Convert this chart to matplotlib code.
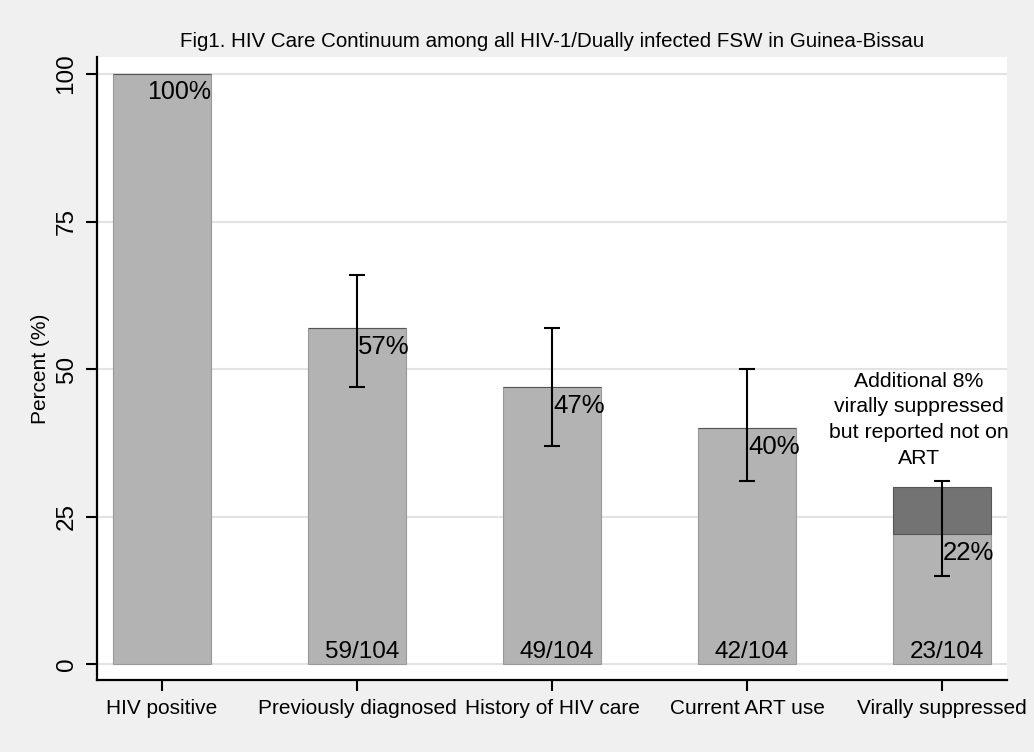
import matplotlib
matplotlib.use("Agg")
import matplotlib.pyplot as plt
import numpy as np

categories = ["HIV positive", "Previously diagnosed", "History of HIV care",
              "Current ART use", "Virally suppressed"]
percent = [100, 57, 47, 40, 22]
ci_low = [np.nan, 47, 37, 31, 15]
ci_high = [np.nan, 66, 57, 50, 31]
counts = ["", "59/104", "49/104", "42/104", "23/104"]
extra_suppressed = [0, 0, 0, 0, 8]
pct_labels = ["100%", "57%", "47%", "40%", "22%"]
yticks = [0, 25, 50, 75, 100]

plt.rcParams['font.family'] = ['Liberation Sans', 'DejaVu Sans']

fig = plt.figure(figsize=(10.34, 7.52), dpi=100, facecolor='#f0f0f0')
ax = fig.add_axes([97/1034, 1-680/752, 910/1034, 623/752])
ax.set_facecolor('white')

x = np.arange(len(categories))
ax.bar(x, percent, width=0.5, color='#b3b3b3', edgecolor='#999999', linewidth=0.8, zorder=2)
ax.bar(x, extra_suppressed, bottom=percent, width=0.5, color='#737373',
       edgecolor='#555555', linewidth=0.8, zorder=2)

lo = np.array(percent, float) - np.array(ci_low, float)
hi = np.array(ci_high, float) - np.array(percent, float)
mask = ~np.isnan(lo)
ax.errorbar(x[mask], np.array(percent)[mask], yerr=[lo[mask], hi[mask]], fmt='none',
            ecolor='black', elinewidth=1.5, capsize=6, capthick=1.5, zorder=4)

for i, (xi, p, lab) in enumerate(zip(x, percent, pct_labels)):
    if i == 0:
        ax.text(xi + 0.25, p - 1.0, lab, ha='right', va='top', fontsize=18, zorder=5)
    else:
        ax.text(xi + 0.005, p - 1.2, lab, ha='left', va='top', fontsize=18.5, zorder=5)
    if counts[i]:
        ax.text(xi + 0.025, 1.0, counts[i], ha='center', va='baseline', fontsize=17.5, zorder=5)

ax.text(3.88, 41.4, "Additional 8%\nvirally suppressed\nbut reported not on\nART",
        ha='center', va='center', fontsize=15.3, linespacing=1.45, zorder=5)

ax.set_xlim(-1/3, 4 + 1/3)
ax.set_ylim(-2.7, 102.9)
ax.set_yticks(yticks)
ax.set_yticklabels([str(t) for t in yticks], rotation=90, va='center', fontsize=17.5)
ax.set_xticks(x)
ax.set_xticklabels(categories, fontsize=15)
ax.yaxis.grid(True, color='#e3e3e3', linewidth=1.5, zorder=0)
ax.set_axisbelow(True)

for s in ['top', 'right']:
    ax.spines[s].set_visible(False)
for s in ['left', 'bottom']:
    ax.spines[s].set_linewidth(1.6)
ax.tick_params(axis='both', direction='out', length=8, width=1.5, pad=6)

ax.set_ylabel("Percent (%)", fontsize=15, labelpad=4)
ax.set_title("Fig1. HIV Care Continuum among all HIV-1/Dually infected FSW in Guinea-Bissau",
             fontsize=14.8, pad=7)

fig.savefig("out.png", dpi=100, facecolor=fig.get_facecolor())
